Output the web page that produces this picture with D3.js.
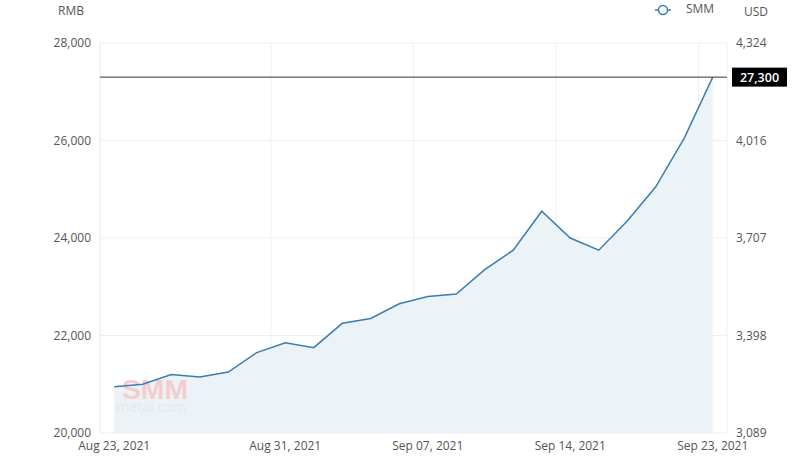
<!DOCTYPE html>
<html>
<head>
<meta charset="utf-8">
<script src="https://cdn.jsdelivr.net/npm/d3@7"></script>
<style>
  html, body { margin: 0; padding: 0; background: #fff; }
  svg { display: block; font-family: "Open Sans", "Noto Sans", sans-serif; }
</style>
</head>
<body>
<svg id="chart" width="793" height="461"></svg>
<script>
// ---- Data ----
const dates = ["Aug 23, 2021","Aug 24, 2021","Aug 25, 2021","Aug 26, 2021","Aug 27, 2021",
  "Aug 30, 2021","Aug 31, 2021","Sep 01, 2021","Sep 02, 2021","Sep 03, 2021",
  "Sep 06, 2021","Sep 07, 2021","Sep 08, 2021","Sep 09, 2021","Sep 10, 2021",
  "Sep 13, 2021","Sep 14, 2021","Sep 15, 2021","Sep 16, 2021","Sep 17, 2021",
  "Sep 22, 2021","Sep 23, 2021"];
const smmValues = [20950, 21000, 21200, 21150, 21250, 21650, 21850, 21750, 22250, 22350,
  22650, 22800, 22850, 23350, 23750, 24550, 24000, 23750, 24350, 25050, 26050, 27300];
const xTickLabels = ["Aug 23, 2021","Aug 31, 2021","Sep 07, 2021","Sep 14, 2021","Sep 23, 2021"];
const leftTicks = [20000, 22000, 24000, 26000, 28000];
const rightTickLabels = ["3,089","3,398","3,707","4,016","4,324"];
const lastValue = 27300;
const seriesName = "SMM";

(function () {
// ---- Layout ----
const svg = d3.select("#chart");
const pl = 100, pr = 727, pt = 43, pb = 433;

const x = d3.scaleBand().domain(dates).range([pl, pr]).paddingInner(0).paddingOuter(0);
const y = d3.scaleLinear().domain([20000, 28000]).range([pb, pt]);
const cx = d => x(d) + x.bandwidth() / 2;
const fmt = d3.format(",");

// gridlines horizontal
svg.append("g").selectAll("line").data(leftTicks).join("line")
  .attr("x1", pl).attr("x2", pr)
  .attr("y1", d => y(d)).attr("y2", d => y(d))
  .attr("stroke", "#efefef").attr("stroke-width", 1);

// gridlines vertical at band boundaries of labelled categories
svg.append("g").selectAll("line").data(xTickLabels).join("line")
  .attr("x1", d => x(d)).attr("x2", d => x(d))
  .attr("y1", pt).attr("y2", pb)
  .attr("stroke", "#efefef").attr("stroke-width", 1);
svg.append("line").attr("x1", pl).attr("x2", pl).attr("y1", pt).attr("y2", pb)
  .attr("stroke", "#efefef");
svg.append("line").attr("x1", pr).attr("x2", pr).attr("y1", pt).attr("y2", pb)
  .attr("stroke", "#efefef");

// area
const pts = dates.map((d, i) => ({d, v: smmValues[i]}));
svg.append("path").datum(pts)
  .attr("d", d3.area().x(p => cx(p.d)).y0(pb).y1(p => y(p.v)))
  .attr("fill", "#ebf3f7");

// watermark (one text element, two lines)
const wm = svg.append("text");
wm.append("tspan").attr("x", 122).attr("y", 398.5)
  .attr("font-size", 27).attr("font-weight", 900).attr("fill", "#f6cdcd")
  .attr("font-family", "Liberation Sans, Arial, sans-serif")
  .attr("textLength", 66).attr("lengthAdjust", "spacingAndGlyphs").text("SMM");
wm.append("tspan").attr("x", 116).attr("y", 411.5)
  .attr("font-size", 15).attr("fill", "#e3e9ee")
  .attr("textLength", 70).attr("lengthAdjust", "spacingAndGlyphs").text("metal.com");

// line
svg.append("path").datum(pts)
  .attr("d", d3.line().x(p => cx(p.d)).y(p => y(p.v)))
  .attr("fill", "none").attr("stroke", "#3a7db0").attr("stroke-width", 1.5);

// last value line
svg.append("line").attr("x1", pl).attr("x2", pr)
  .attr("y1", y(lastValue)).attr("y2", y(lastValue))
  .attr("stroke", "#333").attr("stroke-width", 1);
svg.append("rect").attr("x", 732).attr("y", y(lastValue) - 9.5)
  .attr("width", 55).attr("height", 19).attr("fill", "#000");
svg.append("text").attr("x", 759.5).attr("y", y(lastValue))
  .attr("dy", "0.35em").attr("text-anchor", "middle")
  .attr("font-size", 12.5).attr("font-weight", 600).attr("fill", "#fff").text(fmt(lastValue));

// left axis labels
svg.append("g").selectAll("text").data(leftTicks).join("text")
  .attr("x", 91).attr("y", d => y(d)).attr("dy", "0.35em")
  .attr("text-anchor", "end").attr("font-size", 12).attr("fill", "#555")
  .text(d => fmt(d));

// right axis labels
svg.append("g").selectAll("text").data(leftTicks).join("text")
  .attr("x", 736).attr("y", d => y(d)).attr("dy", "0.35em")
  .attr("text-anchor", "start").attr("font-size", 12).attr("fill", "#555")
  .text((d, i) => rightTickLabels[i]);

// x labels
svg.append("g").selectAll("text").data(xTickLabels).join("text")
  .attr("x", d => cx(d)).attr("y", 446).attr("dy", "0.35em")
  .attr("text-anchor", "middle").attr("font-size", 12).attr("fill", "#555")
  .text(d => d);

// unit labels
svg.append("text").attr("x", 58).attr("y", 11).attr("dy", "0.35em")
  .attr("font-size", 12).attr("fill", "#555").text("RMB");
svg.append("text").attr("x", 744).attr("y", 12).attr("dy", "0.35em")
  .attr("font-size", 12).attr("fill", "#555").text("USD");

// legend
svg.append("line").attr("x1", 655).attr("x2", 671).attr("y1", 10).attr("y2", 10)
  .attr("stroke", "#3a7db0").attr("stroke-width", 1.5);
svg.append("circle").attr("cx", 663).attr("cy", 10).attr("r", 4.5)
  .attr("fill", "#fff").attr("stroke", "#3a7db0").attr("stroke-width", 1.5);
svg.append("text").attr("x", 686).attr("y", 9).attr("dy", "0.35em")
  .attr("font-size", 12).attr("fill", "#555").text(seriesName);
})();
</script>
</body>
</html>
